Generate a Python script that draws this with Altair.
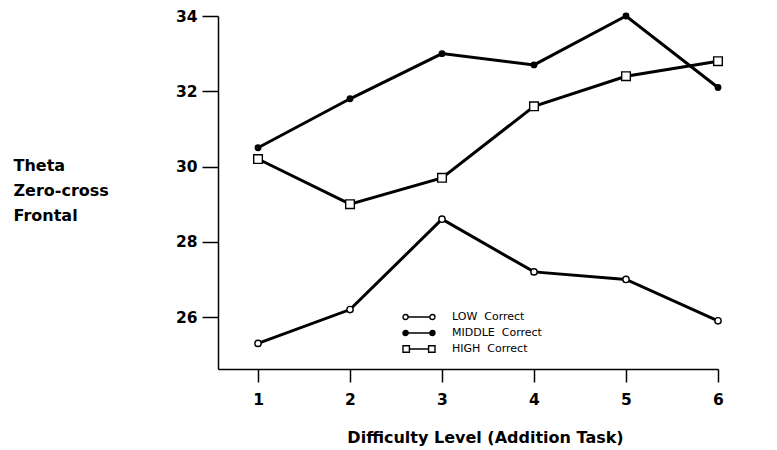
import altair as alt
import pandas as pd

# Mean frontal theta zero-cross counts per difficulty level of the addition task
levels = [1, 2, 3, 4, 5, 6]
low_values = [25.3, 26.2, 28.6, 27.2, 27.0, 25.9]
middle_values = [30.5, 31.8, 33.0, 32.7, 34.0, 32.1]
high_values = [30.2, 29.0, 29.7, 31.6, 32.4, 32.8]

group_names = ["LOW\u00a0\u00a0Correct", "MIDDLE\u00a0\u00a0Correct", "HIGH\u00a0\u00a0Correct"]
point_shapes = ["circle", "circle", "square"]
point_fills = ["white", "black", "white"]
point_sizes = [40, 30, 75]

y_ticks = [26, 28, 30, 32, 34]

# Legend glyphs: a short segment capped by the series marker at both ends
CIRCLE_CAPS = ("M-0.68,0L0.68,0"
               "M-1,0A0.16,0.16 0 1,1 -0.68,0A0.16,0.16 0 1,1 -1,0Z"
               "M0.68,0A0.16,0.16 0 1,1 1,0A0.16,0.16 0 1,1 0.68,0Z")
SQUARE_CAPS = ("M-0.6,0L0.6,0"
               "M-1,-0.2H-0.6V0.2H-1Z"
               "M0.6,-0.2H1V0.2H0.6Z")

rows = []
for name, shp, fll, sz, vals in zip(group_names, point_shapes, point_fills, point_sizes,
                                    [low_values, middle_values, high_values]):
    for lvl, v in zip(levels, vals):
        rows.append({"level": lvl, "value": v, "group": name,
                     "shape": shp, "fill": fll, "size": sz})
df = pd.DataFrame(rows)

TITLE_FONT = "DejaVu Sans"

x_axis = alt.Axis(
    values=levels, format="d", grid=False, labelFlush=False,
    title="Difficulty Level (Addition Task)",
    titleFont=TITLE_FONT, titleFontSize=16, titleFontWeight="bold", titleColor="black",
    titleX=267, titleY=68, titleAlign="center", titleBaseline="middle",
    labelFont=TITLE_FONT, labelFontSize=15.5, labelFontWeight="bold", labelColor="black",
    labelPadding=10, tickSize=13, tickWidth=1.5, tickColor="black",
    domainColor="black", domainWidth=1.5,
)
y_axis = alt.Axis(
    values=y_ticks, format="d", grid=False,
    title=["Theta", "Zero-cross", "Frontal"],
    titleAngle=0, titleAlign="left", titleBaseline="top",
    titleX=-205, titleY=141, titleLineHeight=25,
    titleFont=TITLE_FONT, titleFontSize=16, titleFontWeight="bold", titleColor="black",
    labelFont=TITLE_FONT, labelFontSize=15.5, labelFontWeight="bold", labelColor="black",
    labelPadding=5, tickSize=16, tickWidth=1.5, tickColor="black",
    domainColor="black", domainWidth=1.5,
)

base = alt.Chart(df).encode(
    x=alt.X("level:Q", scale=alt.Scale(domain=[0.565, 6], nice=False, zero=False), axis=x_axis),
    y=alt.Y("value:Q", scale=alt.Scale(domain=[24.62, 34], nice=False, zero=False), axis=y_axis),
)

lines = base.mark_line(color="black", strokeWidth=3).encode(detail="group:N")

markers = base.mark_point(filled=True, stroke="black", strokeWidth=1.4, opacity=1).encode(
    shape=alt.Shape("shape:N", scale=None),
    fill=alt.Fill("fill:N", scale=None),
    size=alt.Size("size:Q", scale=None),
)

legend = alt.Legend(
    title=None, orient="none", legendX=184, legendY=293,
    symbolSize=1024, symbolStrokeWidth=1.4, symbolOpacity=1,
    clipHeight=16, rowPadding=0, labelOffset=16,
    labelFont=TITLE_FONT, labelFontSize=11, labelColor="black",
)

# invisible layer that carries the series legend
legend_layer = base.mark_point(filled=True, strokeWidth=1.4, opacity=0).encode(
    shape=alt.Shape("group:N", sort=group_names,
                    scale=alt.Scale(domain=group_names, range=[CIRCLE_CAPS, CIRCLE_CAPS, SQUARE_CAPS]),
                    legend=legend),
    fill=alt.Fill("group:N", sort=group_names,
                  scale=alt.Scale(domain=group_names, range=point_fills),
                  legend=legend),
    stroke=alt.Stroke("group:N", sort=group_names,
                      scale=alt.Scale(domain=group_names, range=["black", "black", "black"]),
                      legend=legend),
)

chart = alt.layer(lines, legend_layer, markers).properties(
    width=500, height=353,
    autosize=alt.AutoSizeParams(type="none"),
    padding={"left": 218, "top": 16, "right": 59, "bottom": 81},
    background="white",
).configure_view(stroke=None)

chart.save("out.html", embed_options={"renderer": "svg", "actions": False})
